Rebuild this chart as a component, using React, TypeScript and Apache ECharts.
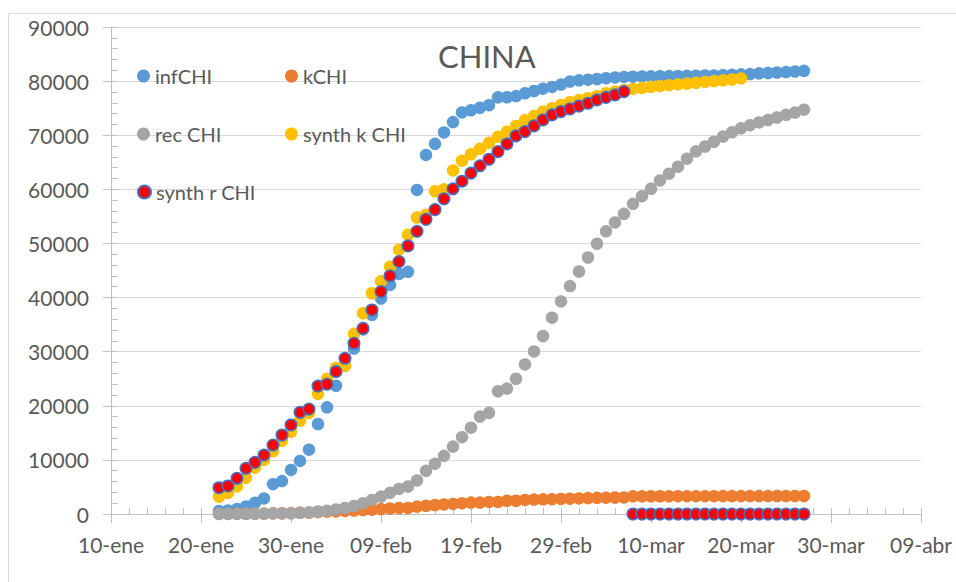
import React, { useEffect, useRef } from "react";
import * as echarts from "echarts";

// Day index 0 = 10-ene (Jan 10, 2020); all series start on 22-ene (day 12)
const firstDay = 12;
const xTickLabels = ["10-ene", "20-ene", "30-ene", "09-feb", "19-feb", "29-feb", "10-mar", "20-mar", "30-mar", "09-abr"];

const infCHI = [
  548, 643, 920, 1406, 2075, 2877, 5509, 6087, 8141, 9802,
  11891, 16630, 19716, 23707, 27440, 30587, 34110, 36814, 39829, 42354,
  44386, 44759, 59895, 66358, 68413, 70513, 72434, 74211, 74619, 75077,
  75550, 77001, 77022, 77241, 77754, 78166, 78600, 78928, 79356,
  79932, 80136, 80261, 80386, 80537, 80690, 80770, 80823, 80860, 80887,
  80921, 80932, 80945, 80977, 81003, 81033, 81058, 81102, 81156, 81250,
  81305, 81435, 81498, 81591, 81661, 81782, 81897,
];

const kCHI = [
  17, 18, 26, 42, 56, 82, 131, 133, 171, 213,
  259, 361, 425, 490, 562, 632, 717, 804, 904, 1011,
  1111, 1116, 1368, 1520, 1662, 1765, 1863, 2002, 2114, 2118,
  2236, 2238, 2443, 2445, 2595, 2665, 2717, 2746, 2790,
  2837, 2872, 2946, 2983, 3015, 3044, 3072, 3260, 3270, 3275,
  3280, 3285, 3290, 3290, 3295, 3300, 3300, 3305, 3305, 3310,
  3310, 3315, 3315, 3320, 3320, 3325, 3330,
];

const recCHI = [
  28, 30, 36, 39, 49, 58, 101, 120, 135, 214,
  275, 463, 614, 843, 1115, 1476, 1998, 2595, 3218, 3917,
  4635, 5079, 6213, 7973, 9294, 10748, 12455, 14199, 15952, 18002,
  18693, 22687, 23170, 24990, 27650, 30053, 32898, 36291, 39279,
  42118, 44810, 47404, 49955, 52240, 53888, 55478, 57320, 58735, 60106,
  61644, 62901, 64196, 65660, 67017, 67910, 68798, 69755, 70535, 71266,
  71857, 72362, 72814, 73280, 73773, 74181, 74720,
];

const synthKCHI = [
  3200, 3900, 5100, 6700, 8600, 10000, 11600, 13500, 15200, 17250,
  18700, 22200, 25000, 27000, 27400, 33300, 37100, 40800, 43000, 45700,
  48850, 51600, 54800, 55300, 59650, 60000, 63500, 65300, 66500, 67500,
  68600, 69700, 70650, 71700, 72800, 73550, 74350, 75000, 75600,
  76100, 76500, 76850, 77250, 77750, 78050, 78350, 78550, 78750, 78950,
  79100, 79250, 79400, 79550, 79700, 79850, 80000, 80150, 80300, 80500,
];

const synthRCHI = [
  4860, 5180, 6600, 8450, 9550, 10900, 12750, 14600, 16450, 18800,
  19400, 23650, 24000, 26300, 28780, 31550, 34300, 37700, 41100, 44000,
  46650, 49540, 52250, 54450, 56250, 58250, 60100, 61500, 63000, 64350,
  65560, 66970, 68400, 69870, 70670, 71720, 72830, 73750, 74370,
  74860, 75400, 75900, 76520, 77000, 77450, 78060,
  0, 0, 0, 0, 0, 0, 0, 0, 0, 0,
  0, 0, 0, 0, 0, 0, 0, 0, 0, 0,
];

const seriesNames = ["infCHI", "kCHI", "rec CHI", "synth k CHI", "synth r CHI"];
const seriesValues = [infCHI, kCHI, recCHI, synthKCHI, synthRCHI];
const seriesColors = ["#5B9BD5", "#ED7D31", "#A5A5A5", "#FFC000", "#FF0000"];

const FONT = "Lato, 'Noto Sans', sans-serif";
const TEXT = "#595959";
const AXIS = "#BFBFBF";
const GRID = "#D9D9D9";

const legendPos = [
  { left: 137, top: 66 },
  { left: 285, top: 66 },
  { left: 137, top: 124 },
  { left: 285, top: 124 },
  { left: 137, top: 182 },
];

export default function App() {
  const ref = useRef<HTMLDivElement>(null);
  useEffect(() => {
    document.body.style.margin = "0";
    const chart = echarts.init(ref.current!, null, { renderer: "svg" });
    const series = seriesNames.map((name, si) => ({
      name,
      type: "scatter",
      symbol: "circle",
      symbolSize: si === 4 ? 11.5 : 12.5,
      itemStyle:
        si === 4
          ? { color: seriesColors[si], opacity: 1, borderColor: "#4472C4", borderWidth: 1.5 }
          : { color: seriesColors[si], opacity: 1 },
      data: seriesValues[si].map((v, i) => [firstDay + i, v]),
    }));
    chart.setOption({
      animation: false,
      backgroundColor: "#fff",
      textStyle: { fontFamily: FONT },
      graphic: [
        {
          type: "rect",
          shape: { x: 8.5, y: 13.5, width: 1000, height: 1000 },
          style: { fill: "none", stroke: GRID, lineWidth: 1 },
          z: -10,
          silent: true,
        },
      ],
      title: {
        text: "CHINA",
        left: 438,
        top: 40,
        padding: 0,
        textStyle: { color: TEXT, fontSize: 31, fontWeight: "normal", fontFamily: FONT },
      },
      legend: seriesNames.map((name, i) => ({
        data: [name],
        left: legendPos[i].left,
        top: legendPos[i].top,
        padding: 0,
        itemWidth: 13,
        itemHeight: 13,
        itemGap: 0,
        icon: "circle",
        selectedMode: false,
        textStyle: { color: TEXT, fontSize: 20, fontFamily: FONT, lineHeight: 20 },
      })),
      grid: { left: 111, right: 35, top: 27, bottom: 68, containLabel: false },
      xAxis: [
        {
          type: "value",
          min: 0,
          max: 90,
          interval: 10,
          axisLine: { show: true, onZero: false, lineStyle: { color: AXIS, width: 1 } },
          axisTick: { show: true, inside: false, length: 9, lineStyle: { color: AXIS } },
          axisLabel: {
            color: TEXT,
            fontSize: 21,
            fontFamily: FONT,
            margin: 20,
            formatter: (v: number) => xTickLabels[Math.round(v / 10)] ?? "",
          },
          splitLine: { show: false },
        },
        {
          type: "value",
          min: 0,
          max: 90,
          interval: 2,
          position: "bottom",
          axisLine: { show: false, onZero: false },
          axisTick: { show: true, inside: true, length: 6, lineStyle: { color: AXIS } },
          axisLabel: { show: false },
          splitLine: { show: false },
        },
      ],
      yAxis: [
        {
          type: "value",
          min: 0,
          max: 90000,
          interval: 10000,
          axisLine: { show: true, lineStyle: { color: AXIS, width: 1 } },
          axisTick: { show: true, inside: false, length: 8, lineStyle: { color: AXIS } },
          axisLabel: {
            color: TEXT,
            fontSize: 21,
            fontFamily: FONT,
            margin: 22,
            formatter: (v: number) => String(v),
          },
          splitLine: { show: true, lineStyle: { color: GRID, width: 1 } },
        },
        {
          type: "value",
          min: 0,
          max: 90000,
          interval: 2000,
          position: "left",
          axisLine: { show: false },
          axisTick: { show: true, inside: true, length: 7, lineStyle: { color: AXIS } },
          axisLabel: { show: false },
          splitLine: { show: false },
        },
      ],
      series,
    });
    return () => chart.dispose();
  }, []);
  return <div ref={ref} style={{ width: 956, height: 582 }} />;
}
